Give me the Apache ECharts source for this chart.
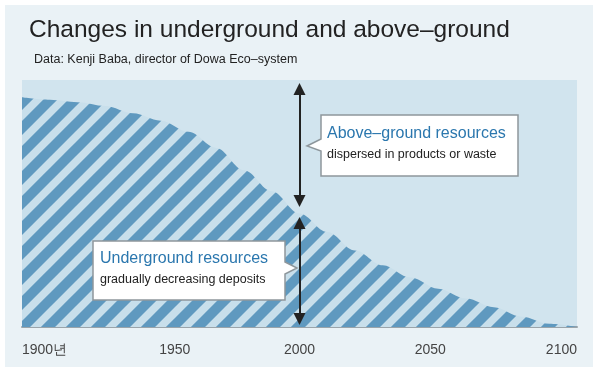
<!DOCTYPE html>
<html>
<head>
<meta charset="utf-8">
<script src="https://cdn.jsdelivr.net/npm/echarts@6/dist/echarts.min.js"></script>
<style>
html,body{margin:0;padding:0;background:#ffffff;}
#chart{width:600px;height:371px;}
</style>
</head>
<body>
<div id="chart"></div>
<script>
// ---- data ----
const years = [1900,1910,1920,1930,1940,1950,1960,1970,1980,1990,2000,2010,2020,2030,2040,2050,2060,2070,2080,2090,2100];
const underground = [93,92,91,89.5,86.5,83.5,79,72.5,63.5,55,46,38.5,31,25,20,15.5,11.5,8,4.2,1.3,0];
const xTicks = [1900,1950,2000,2050,2100];
const firstTickLabel = '1900년';
const arrowYear = 2000;
const aboveArrow = [96.4, 51.0];
const underArrow = [42.1, 3.2];
const titleText = 'Changes in underground and above–ground';
const subText = 'Data: Kenji Baba, director of Dowa Eco–system';
const aboveLabel = ['Above–ground resources', 'dispersed in products or waste'];
const underLabel = ['Underground resources', 'gradually decreasing deposits'];

// ---- stripe pattern ----
const tile = document.createElement('canvas');
tile.width = 25; tile.height = 25;
const c = tile.getContext('2d');
c.fillStyle = '#c8dfeb';
c.fillRect(0,0,25,25);
c.strokeStyle = '#5f99bf';
c.lineWidth = 10;
c.beginPath();
c.moveTo(-5,30); c.lineTo(30,-5);
c.moveTo(-5,5); c.lineTo(5,-5);
c.moveTo(20,30); c.lineTo(30,20);
c.stroke();

const chart = echarts.init(document.getElementById('chart'), null, {renderer:'canvas'});
const font = '"Liberation Sans", Arial, sans-serif';

chart.setOption({
  backgroundColor: '#ffffff',
  animation: false,
  textStyle: {fontFamily: font},
  title: [
    {text: titleText, left: 24, top: 13, textStyle: {fontSize: 24.5, fontWeight: 'normal', color: '#222', fontFamily: font}},
    {text: subText, left: 29, top: 48, textStyle: {fontSize: 12.5, fontWeight: 'normal', color: '#222', fontFamily: font}}
  ],
  grid: {left: 22, right: 23, top: 80, bottom: 44, show: true, backgroundColor: '#d1e4ee', borderWidth: 0},
  xAxis: {
    type: 'value', min: 1900, max: 2100, interval: 50,
    axisLine: {show: true, lineStyle: {color: '#9aa4aa', width: 2}},
    axisTick: {show: false},
    splitLine: {show: false},
    axisLabel: {
      margin: 16, fontSize: 14, color: '#444', fontFamily: font,
      alignMinLabel: 'left', alignMaxLabel: 'right',
      customValues: xTicks,
      formatter: v => v === xTicks[0] ? firstTickLabel : (v === 1950 ? '{r|' + v + '}' : (v === 2050 ? '{l|' + v + '}' : String(v))),
      rich: {
        r: {fontSize: 14, color: '#444', fontFamily: font, padding: [0, 0, 0, 28]},
        l: {fontSize: 14, color: '#444', fontFamily: font, padding: [0, 16, 0, 0]}
      }
    }
  },
  yAxis: {type: 'value', min: 0, max: 100, show: false},
  series: [{
    type: 'line',
    data: years.map((y,i) => [y, underground[i]]),
    smooth: 0.35,
    smoothMonotone: 'x',
    symbol: 'none',
    lineStyle: {width: 0},
    areaStyle: {color: {image: tile, repeat: 'repeat'}, opacity: 1},
    markLine: {
      silent: true,
      symbol: ['triangle','triangle'],
      symbolSize: [12, 12],
      label: {show: false},
      lineStyle: {color: '#222', width: 2, type: 'solid'},
      data: [
        [{coord: [arrowYear, aboveArrow[0]]}, {coord: [arrowYear, aboveArrow[1]]}],
        [{coord: [arrowYear, underArrow[0]]}, {coord: [arrowYear, underArrow[1]]}]
      ]
    }
  }],
  graphic: [
    {type: 'rect', z: -100, silent: true, shape: {x: 5, y: 5, width: 588, height: 362}, style: {fill: '#eaf2f6'}},
    {type: 'polygon', z: 100, shape: {points: [[321,115],[518,115],[518,176],[321,176],[321,151],[307,146],[321,139]]},
      style: {fill: '#ffffff', stroke: '#8e979c', lineWidth: 1.5}},
    {type: 'text', z: 101, left: 327, top: 126, style: {text: aboveLabel[0], fill: '#2b77ae', font: '16px ' + font}},
    {type: 'text', z: 101, left: 327, top: 148, style: {text: aboveLabel[1], fill: '#222', font: '12.5px ' + font}},
    {type: 'polygon', z: 100, shape: {points: [[93,241],[285,241],[285,262],[297,268],[285,274],[285,300],[93,300]]},
      style: {fill: '#ffffff', stroke: '#8e979c', lineWidth: 1.5}},
    {type: 'text', z: 101, left: 100, top: 251, style: {text: underLabel[0], fill: '#2b77ae', font: '16px ' + font}},
    {type: 'text', z: 101, left: 100, top: 273, style: {text: underLabel[1], fill: '#222', font: '12.5px ' + font}}
  ]
});
</script>
</body>
</html>
